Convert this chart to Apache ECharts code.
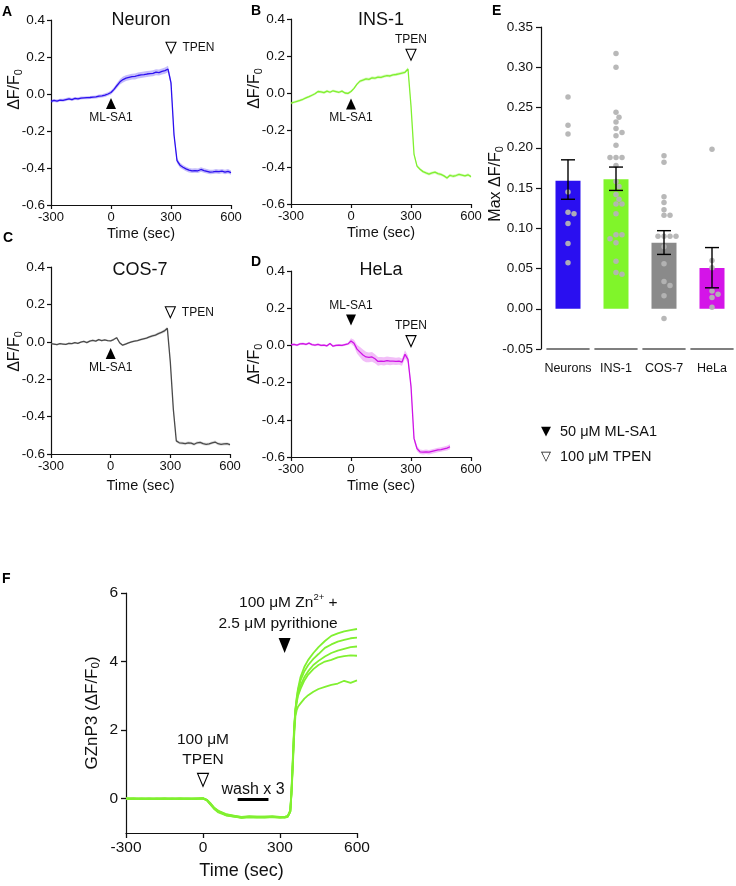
<!DOCTYPE html>
<html>
<head>
<meta charset="UTF-8">
<title>Zn2+ release traces</title>
<script src="https://cdn.jsdelivr.net/npm/echarts@6/dist/echarts.min.js"></script>
<style>
  html, body { margin: 0; padding: 0; background: #fff; }
  #chart { width: 736px; height: 886px; }
</style>
</head>
<body>
<div id="chart"></div>
<script>
const FONT = '"Liberation Sans", Arial, Helvetica, sans-serif';
const INK = '#111';

// time base for panels A-D (sec)
const timeAD = [-300,-285,-270,-255,-240,-225,-210,-195,-180,-165,-150,-135,-120,-105,-90,-75,-60,-45,-30,-15,
  0,15,30,45,60,75,90,105,120,135,150,165,180,195,210,225,240,255,270,285,
  300,315,330,345,360,375,390,405,420,435,450,465,480,495,510,525,540,555,570,585,600];

// A: Neuron
const neuronMean = [-0.040,-0.035,-0.038,-0.033,-0.034,-0.030,-0.026,-0.030,-0.024,-0.026,-0.022,-0.021,-0.020,-0.019,-0.017,-0.016,-0.012,-0.010,-0.006,0.000,
  0.008,0.025,0.046,0.066,0.078,0.086,0.090,0.094,0.095,0.100,0.103,0.105,0.108,0.110,0.112,0.118,0.116,0.122,0.126,0.135,
  0.060,-0.220,-0.360,-0.385,-0.396,-0.405,-0.412,-0.415,-0.414,-0.415,-0.408,-0.414,-0.418,-0.422,-0.421,-0.418,-0.420,-0.417,-0.422,-0.418,-0.425];
const neuronSem = [0.008,0.008,0.008,0.008,0.008,0.008,0.008,0.008,0.008,0.008,0.008,0.008,0.008,0.008,0.008,0.008,0.009,0.009,0.010,0.010,
  0.011,0.012,0.014,0.015,0.016,0.016,0.016,0.016,0.016,0.016,0.016,0.016,0.016,0.016,0.016,0.016,0.016,0.016,0.017,0.018,
  0.018,0.016,0.014,0.013,0.012,0.012,0.012,0.012,0.012,0.012,0.012,0.012,0.012,0.012,0.012,0.012,0.012,0.012,0.012,0.012,0.012];

// B: INS-1
const insMean = [-0.055,-0.050,-0.045,-0.040,-0.034,-0.026,-0.020,-0.012,-0.004,0.008,0.006,0.002,0.010,0.004,0.012,0.008,0.004,0.010,0.000,-0.002,
  0.008,0.025,0.048,0.064,0.070,0.076,0.074,0.082,0.080,0.086,0.085,0.090,0.094,0.092,0.098,0.100,0.104,0.108,0.112,0.130,
  -0.070,-0.330,-0.395,-0.412,-0.425,-0.432,-0.438,-0.432,-0.428,-0.436,-0.440,-0.448,-0.460,-0.445,-0.450,-0.446,-0.440,-0.444,-0.448,-0.442,-0.452];
const insSem = [0.007,0.007,0.007,0.007,0.007,0.007,0.007,0.007,0.007,0.007,0.007,0.007,0.007,0.007,0.007,0.007,0.007,0.007,0.007,0.007,
  0.007,0.007,0.008,0.008,0.008,0.008,0.008,0.008,0.008,0.008,0.008,0.008,0.008,0.008,0.008,0.008,0.008,0.008,0.008,0.009,
  0.009,0.008,0.008,0.008,0.008,0.008,0.008,0.008,0.008,0.008,0.008,0.008,0.008,0.008,0.008,0.008,0.008,0.008,0.008,0.008,0.008];

// C: COS-7
const cosMean = [-0.010,-0.012,-0.015,-0.010,-0.012,-0.014,-0.008,-0.010,-0.005,-0.008,-0.002,0.002,-0.004,0.004,0.008,0.004,0.012,0.006,0.010,0.006,
  0.005,0.012,0.022,-0.005,-0.018,-0.012,-0.006,0.000,0.004,0.006,0.012,0.016,0.020,0.026,0.032,0.036,0.044,0.050,0.058,0.072,
  -0.110,-0.360,-0.530,-0.540,-0.542,-0.545,-0.540,-0.542,-0.548,-0.540,-0.538,-0.545,-0.548,-0.546,-0.540,-0.536,-0.545,-0.548,-0.546,-0.545,-0.550];
const cosSem = [0.005,0.005,0.005,0.005,0.005,0.005,0.005,0.005,0.005,0.005,0.005,0.005,0.005,0.005,0.005,0.005,0.005,0.005,0.005,0.005,
  0.005,0.005,0.005,0.005,0.005,0.005,0.005,0.005,0.005,0.005,0.006,0.006,0.006,0.007,0.007,0.007,0.008,0.008,0.009,0.009,
  0.009,0.008,0.008,0.008,0.008,0.008,0.008,0.008,0.008,0.008,0.008,0.008,0.008,0.008,0.008,0.008,0.008,0.008,0.008,0.008,0.008];

// D: HeLa (recording ends near 500 s)
const helaMean = [0.004,0.006,0.002,0.008,0.010,0.006,0.012,0.004,0.002,0.006,0.000,0.002,-0.002,0.010,-0.004,0.000,0.002,0.000,0.004,0.008,
  0.024,0.012,-0.020,-0.036,-0.052,-0.062,-0.064,-0.062,-0.072,-0.086,-0.084,-0.086,-0.082,-0.085,-0.084,-0.086,-0.084,-0.090,-0.048,-0.075,
  -0.220,-0.500,-0.555,-0.572,-0.574,-0.572,-0.574,-0.570,-0.566,-0.562,-0.560,-0.556,-0.552,-0.545];
const helaSem = [0.006,0.006,0.006,0.006,0.006,0.006,0.006,0.006,0.006,0.006,0.006,0.006,0.006,0.006,0.006,0.006,0.006,0.006,0.006,0.006,
  0.015,0.018,0.024,0.028,0.030,0.028,0.026,0.026,0.024,0.024,0.022,0.022,0.022,0.022,0.020,0.020,0.020,0.020,0.022,0.020,
  0.018,0.016,0.014,0.012,0.012,0.012,0.012,0.012,0.012,0.012,0.012,0.012,0.013,0.014];

// E: max dF/F0 per cell type
const barCats = ['Neurons', 'INS-1', 'COS-7', 'HeLa'];
const barMeans = [0.159, 0.161, 0.082, 0.0505];
const barErrLow = [0.136, 0.147, 0.0675, 0.026];
const barErrHigh = [0.185, 0.176, 0.097, 0.076];
const neuronDots = [0.263,0.228,0.217,0.145,0.120,0.118,0.106,0.081,0.057];
const insDots = [0.317,0.300,0.244,0.238,0.232,0.224,0.219,0.215,0.203,0.188,0.188,0.188,0.178,0.158,0.152,0.142,0.136,0.130,0.130,0.118,0.092,0.092,0.087,0.082,0.059,0.045,0.043];
const cosDots = [0.190,0.182,0.139,0.132,0.123,0.116,0.116,0.090,0.090,0.090,0.090,0.077,0.056,0.034,0.029,0.016,-0.012,-0.052];
const helaDots = [0.198,0.060,0.051,0.022,0.018,0.014,0.002];
const eTicks = [-0.05, 0.35, 0.05];

// F: GZnP3 traces
const timeF = [-300,-270,-240,-210,-180,-150,-120,-90,-60,-30,0,15,30,45,60,90,120,150,180,210,240,270,300,
  320,330,340,345,350,355,360,365,370,380,395,410,430,450,475,500,525,550,575,600];
const zinc1 = [0.00,0.01,-0.01,0.00,0.01,0.00,-0.01,0.01,0.00,0.01,0.02,-0.03,-0.15,-0.28,-0.36,-0.46,-0.50,-0.54,-0.52,-0.52,-0.53,-0.52,-0.54,
  -0.53,-0.50,-0.33,0.30,1.20,2.10,2.60,2.95,3.20,3.55,3.85,4.05,4.25,4.42,4.60,4.75,4.82,4.88,4.92,4.95];
const zinc2 = [-0.01,0.00,0.00,-0.01,0.00,0.01,0.00,0.00,-0.01,0.00,0.01,-0.04,-0.17,-0.30,-0.38,-0.47,-0.51,-0.55,-0.53,-0.53,-0.52,-0.53,-0.53,
  -0.54,-0.52,-0.36,0.25,1.12,2.02,2.60,2.90,3.15,3.45,3.72,3.90,4.08,4.22,4.40,4.50,4.58,4.63,4.68,4.70];
const zinc3 = [0.01,0.00,0.00,0.01,-0.01,0.00,0.00,0.01,0.01,0.00,0.00,-0.05,-0.18,-0.31,-0.40,-0.49,-0.52,-0.56,-0.54,-0.55,-0.54,-0.54,-0.55,
  -0.55,-0.53,-0.38,0.20,1.05,1.95,2.55,2.85,3.05,3.30,3.55,3.72,3.90,4.02,4.15,4.25,4.32,4.37,4.42,4.44];
const zinc4 = [0.00,-0.01,0.01,0.00,0.00,-0.01,0.01,0.00,0.00,-0.01,0.01,-0.04,-0.16,-0.29,-0.37,-0.48,-0.52,-0.55,-0.53,-0.54,-0.55,-0.53,-0.55,
  -0.54,-0.52,-0.37,0.22,1.08,1.98,2.55,2.80,3.00,3.20,3.45,3.62,3.78,3.90,4.00,4.05,4.12,4.16,4.18,4.17];
const zinc5 = [0.01,0.01,0.00,0.00,0.00,0.01,0.00,-0.01,0.00,0.00,0.01,-0.03,-0.14,-0.27,-0.35,-0.45,-0.49,-0.53,-0.51,-0.52,-0.52,-0.51,-0.53,
  -0.52,-0.51,-0.38,0.15,0.95,1.80,2.40,2.58,2.68,2.78,2.92,3.02,3.12,3.20,3.26,3.32,3.36,3.44,3.38,3.45];
const zincTicks = [0, 2, 4, 6];

const BLUE = '#2c10ef', GREEN = '#80f030', GREY = '#4a4a4a', MAGENTA = '#cf14e6';

const chart = echarts.init(document.getElementById('chart'));

const upTri = 'path://M5,0L10,10L0,10Z';
const downTri = 'path://M0,0L10,0L5,10Z';

function mark(coord, shape, filled, label, size) {
  return {
    coord: coord,
    symbol: shape,
    symbolSize: size || [10, 11],
    itemStyle: filled ? { color: '#000' } : { color: '#fff', borderColor: '#000', borderWidth: 1.1 },
    label: Object.assign({ show: true, color: INK, fontSize: 12, fontFamily: FONT }, label)
  };
}

function axisStyle(extra) {
  return Object.assign({
    axisLine: { show: true, onZero: false, lineStyle: { color: INK, width: 1.2 } },
    axisTick: { show: true, length: 4, lineStyle: { color: INK, width: 1.2 } },
    splitLine: { show: false }
  }, extra);
}

const dfName = '{a|ΔF/F}{b|0}';
// shift > 0 moves the rotated name up along the axis
function richName(size, shift) {
  return {
    color: INK,
    padding: [0, 0, 0, 2 * (shift || 0)],
    rich: {
      a: { fontSize: size, lineHeight: size + 2, color: INK, fontFamily: FONT },
      b: { fontSize: size * 0.68, lineHeight: size * 0.75, verticalAlign: 'bottom', color: INK, fontFamily: FONT }
    }
  };
}

function traceAxes(i, nameShift, nameGapX) {
  return {
    x: Object.assign(axisStyle(), {
      type: 'value', gridIndex: i, min: -300, max: 600, interval: 300,
      axisLabel: { color: INK, fontSize: 13, margin: 6 },
      name: 'Time (sec)', nameLocation: 'middle', nameGap: nameGapX,
      nameTextStyle: { color: INK, fontSize: 14.5 }
    }),
    y: Object.assign(axisStyle(), {
      type: 'value', gridIndex: i, min: -0.6, max: 0.4, interval: 0.2,
      axisLabel: { color: INK, fontSize: 13.5, margin: 6,
        formatter: v => Math.abs(v) < 1e-9 ? '0.0' : v.toFixed(1) },
      name: dfName, nameLocation: 'middle', nameGap: 27, nameRotate: 90, nameMoveOverlap: false,
      nameTextStyle: richName(16, nameShift)
    })
  };
}

function traceSeries(i, mean, sem, color, band, marks) {
  const pts = mean.map((v, k) => [timeAD[k], v]);
  const hi = mean.map((v, k) => [timeAD[k], v + sem[k]]);
  const lo = mean.map((v, k) => [timeAD[k], v - sem[k]]).reverse();
  return [
    {
      type: 'custom', xAxisIndex: i, yAxisIndex: i, silent: true, z: 1,
      data: [pts[0]],
      renderItem: (p, api) => ({
        type: 'polygon',
        shape: { points: hi.concat(lo).map(d => api.coord(d)) },
        style: { fill: band }
      })
    },
    {
      type: 'line', xAxisIndex: i, yAxisIndex: i, z: 2, data: pts,
      symbol: 'none', lineStyle: { color: color, width: 1.3 },
      markPoint: { silent: true, data: marks }
    }
  ];
}

// beeswarm-style spread of dots that would overlap (px estimates of the E axis scale)
function swarm(vals, idx) {
  const placed = [];
  const out = [];
  vals.forEach(v => {
    const y = v * 805;
    for (const k of [0, 1, -1, 2, -2, 3, -3, 4, -4]) {
      const x = k * 3;
      if (placed.every(p => Math.hypot(p[0] - x, p[1] - y) >= 5.5)) {
        placed.push([x, y]);
        out.push([idx + x / 48, v]);
        break;
      }
    }
  });
  return out;
}

const axA = traceAxes(0, 23, 21);
const axB = traceAxes(1, 23, 21);
const axC = traceAxes(2, 9, 24);
const axD = traceAxes(3, 0, 21);

const barColors = ['#2a0ff0', '#80f52a', '#8a8a8a', '#d414e8'];

const option = {
  animation: false,
  textStyle: { fontFamily: FONT, color: INK },
  grid: [
    { left: 51, top: 20, width: 180, height: 185, outerBoundsMode: 'none' },
    { left: 291, top: 19, width: 180, height: 185, outerBoundsMode: 'none' },
    { left: 51, top: 267, width: 179, height: 187, outerBoundsMode: 'none' },
    { left: 291, top: 271, width: 180, height: 186, outerBoundsMode: 'none' },
    { left: 544, top: 27, width: 192, height: 322, outerBoundsMode: 'none' },
    { left: 126, top: 593, width: 231, height: 240, outerBoundsMode: 'none' }
  ],
  xAxis: [
    axA.x, axB.x, axC.x, axD.x,
    { type: 'category', gridIndex: 4, data: barCats,
      axisLine: { show: false }, axisTick: { show: false },
      axisLabel: { color: INK, fontSize: 12.5, margin: 13, interval: 0 } },
    { type: 'value', gridIndex: 4, min: -0.5, max: 3.5, show: false },
    Object.assign(axisStyle({ axisTick: { show: true, length: 5, lineStyle: { color: INK, width: 1.3 } } }), {
      type: 'value', gridIndex: 5, min: -300, max: 600, interval: 300,
      axisLabel: { color: INK, fontSize: 15.5, margin: 7 },
      name: 'Time (sec)', nameLocation: 'middle', nameGap: 29,
      nameTextStyle: { color: INK, fontSize: 18 }
    })
  ],
  yAxis: [
    axA.y, axB.y, axC.y, axD.y,
    Object.assign(axisStyle({ axisTick: { show: true, length: 5, lineStyle: { color: INK, width: 1.2 } } }), {
      type: 'value', gridIndex: 4, min: eTicks[0], max: eTicks[1], interval: eTicks[2], offset: 3,
      axisLabel: { color: INK, fontSize: 13.5, margin: 8, formatter: v => (Math.abs(v) < 1e-9 ? 0 : v).toFixed(2) },
      name: '{a|Max ΔF/F}{b|0}', nameLocation: 'middle', nameGap: 36, nameRotate: 90, nameMoveOverlap: false,
      nameTextStyle: richName(16, 4)
    }),
    Object.assign(axisStyle({ axisTick: { show: true, length: 5, customValues: zincTicks, lineStyle: { color: INK, width: 1.3 } } }), {
      type: 'value', gridIndex: 5, min: -1, max: 6,
      axisLabel: { color: INK, fontSize: 15.5, margin: 8, customValues: zincTicks },
      name: '{a|GZnP3 (ΔF/F}{b|0}{a|)}', nameLocation: 'middle', nameGap: 24, nameRotate: 90,
      nameTextStyle: richName(17, 0)
    })
  ],
  series: [].concat(
    traceSeries(0, neuronMean, neuronSem, BLUE, 'rgba(44,16,239,0.28)', [
      mark([0, -0.052], upTri, true, { formatter: 'ML-SA1', position: 'bottom', distance: 3 }),
      mark([300, 0.25], downTri, false, { formatter: 'TPEN', position: 'right', distance: 6 })
    ]),
    traceSeries(1, insMean, insSem, GREEN, 'rgba(128,240,48,0.3)', [
      mark([0, -0.06], upTri, true, { formatter: 'ML-SA1', position: 'bottom', distance: 2 }),
      mark([300, 0.207], downTri, false, { formatter: 'TPEN', position: 'top', distance: 3 })
    ]),
    traceSeries(2, cosMean, cosSem, GREY, 'rgba(120,120,120,0.25)', [
      mark([0, -0.063], upTri, true, { formatter: 'ML-SA1', position: 'bottom', distance: 3 }),
      mark([300, 0.158], downTri, false, { formatter: 'TPEN', position: 'right', distance: 6 })
    ]),
    traceSeries(3, helaMean, helaSem, MAGENTA, 'rgba(207,20,230,0.28)', [
      mark([0, 0.136], downTri, true, { formatter: 'ML-SA1', position: 'top', distance: 3 }),
      mark([300, 0.023], downTri, false, { formatter: 'TPEN', position: 'top', distance: 3 })
    ]),
    [
      {
        type: 'bar', xAxisIndex: 4, yAxisIndex: 4, barWidth: 25, z: 1,
        data: barMeans.map((v, i) => ({ value: v, itemStyle: { color: barColors[i] } }))
      },
      {
        type: 'scatter', xAxisIndex: 5, yAxisIndex: 4, z: 3, symbolSize: 5.5,
        itemStyle: { color: '#b4b4b4', opacity: 0.95 },
        data: [].concat(swarm(neuronDots, 0), swarm(insDots, 1), swarm(cosDots, 2), swarm(helaDots, 3))
      },
      {
        type: 'custom', xAxisIndex: 4, yAxisIndex: 4, z: 4, silent: true,
        data: barCats.map((c, i) => [i, barErrLow[i], barErrHigh[i]]),
        renderItem: (p, api) => {
          const lo = api.coord([api.value(0), api.value(1)]);
          const hi = api.coord([api.value(0), api.value(2)]);
          const st = { stroke: '#000', lineWidth: 1.4 };
          return { type: 'group', children: [
            { type: 'line', shape: { x1: hi[0], y1: hi[1], x2: lo[0], y2: lo[1] }, style: st },
            { type: 'line', shape: { x1: hi[0] - 7, y1: hi[1], x2: hi[0] + 7, y2: hi[1] }, style: st },
            { type: 'line', shape: { x1: lo[0] - 7, y1: lo[1], x2: lo[0] + 7, y2: lo[1] }, style: st }
          ] };
        }
      },
      {
        type: 'custom', xAxisIndex: 4, yAxisIndex: 4, z: 4, silent: true,
        data: barCats.map((c, i) => [i, eTicks[0]]),
        renderItem: (p, api) => {
          const c = api.coord([api.value(0), api.value(1)]);
          const w = api.size([1, 0])[0] * 0.45;
          return { type: 'line', shape: { x1: c[0] - w, y1: c[1], x2: c[0] + w, y2: c[1] },
            style: { stroke: '#000', lineWidth: 1.2 } };
        }
      }
    ],
    [zinc1, zinc2, zinc3, zinc4, zinc5].map((tr, n) => {
      const s = {
        type: 'line', xAxisIndex: 6, yAxisIndex: 5, symbol: 'none',
        data: tr.map((v, k) => [timeF[k], v]),
        lineStyle: { color: GREEN, width: 1.8 }
      };
      if (n === 0) {
        s.markPoint = { silent: true, data: [
          mark([0, 0.55], downTri, false,
            { formatter: '100 μM\nTPEN', position: 'top', distance: 3, fontSize: 15.5, lineHeight: 20 }, [11, 13]),
          mark([318, 4.47], downTri, true,
            { formatter: '{a|100 μM Zn}{s|2+}{a| +}\n{a|2.5 μM pyrithione}', position: 'top', distance: 4,
              align: 'right', offset: [53, 0],
              rich: { a: { fontSize: 15.5, lineHeight: 21, color: INK, fontFamily: FONT },
                      s: { fontSize: 9.5, lineHeight: 11, verticalAlign: 'top', color: INK, fontFamily: FONT } } },
            [12, 15])
        ] };
        s.markLine = {
          silent: true, symbol: 'none',
          lineStyle: { color: '#000', width: 3, type: 'solid' },
          label: { show: true, position: 'middle', formatter: 'wash x 3', color: INK, fontSize: 16, distance: 2 },
          data: [[{ coord: [135, -0.03] }, { coord: [255, -0.03] }]]
        };
      }
      return s;
    })
  ),
  graphic: [
    { type: 'text', x: 2, y: 5, style: { text: 'A', font: 'bold 14px ' + FONT, fill: '#000' } },
    { type: 'text', x: 251, y: 4, style: { text: 'B', font: 'bold 14px ' + FONT, fill: '#000' } },
    { type: 'text', x: 3, y: 231, style: { text: 'C', font: 'bold 14px ' + FONT, fill: '#000' } },
    { type: 'text', x: 251, y: 255, style: { text: 'D', font: 'bold 14px ' + FONT, fill: '#000' } },
    { type: 'text', x: 492, y: 4, style: { text: 'E', font: 'bold 14px ' + FONT, fill: '#000' } },
    { type: 'text', x: 2, y: 572, style: { text: 'F', font: 'bold 14px ' + FONT, fill: '#000' } },
    { type: 'text', x: 141, y: 20, style: { text: 'Neuron', font: '18px ' + FONT, fill: INK, align: 'center', verticalAlign: 'middle' } },
    { type: 'text', x: 381, y: 20, style: { text: 'INS-1', font: '18px ' + FONT, fill: INK, align: 'center', verticalAlign: 'middle' } },
    { type: 'text', x: 140, y: 270, style: { text: 'COS-7', font: '18px ' + FONT, fill: INK, align: 'center', verticalAlign: 'middle' } },
    { type: 'text', x: 381, y: 270, style: { text: 'HeLa', font: '18px ' + FONT, fill: INK, align: 'center', verticalAlign: 'middle' } },
    { type: 'text', x: 541, y: 432, style: { text: '▼', font: '13px "DejaVu Sans"', fill: '#000', verticalAlign: 'middle' } },
    { type: 'text', x: 560, y: 432, style: { text: '50 μM ML-SA1', font: '14.5px ' + FONT, fill: INK, verticalAlign: 'middle' } },
    { type: 'text', x: 541, y: 457, style: { text: '▽', font: '13px "DejaVu Sans"', fill: '#000', verticalAlign: 'middle' } },
    { type: 'text', x: 560, y: 457, style: { text: '100 μM TPEN', font: '14.5px ' + FONT, fill: INK, verticalAlign: 'middle' } }
  ]
};

chart.setOption(option);
</script>
</body>
</html>
